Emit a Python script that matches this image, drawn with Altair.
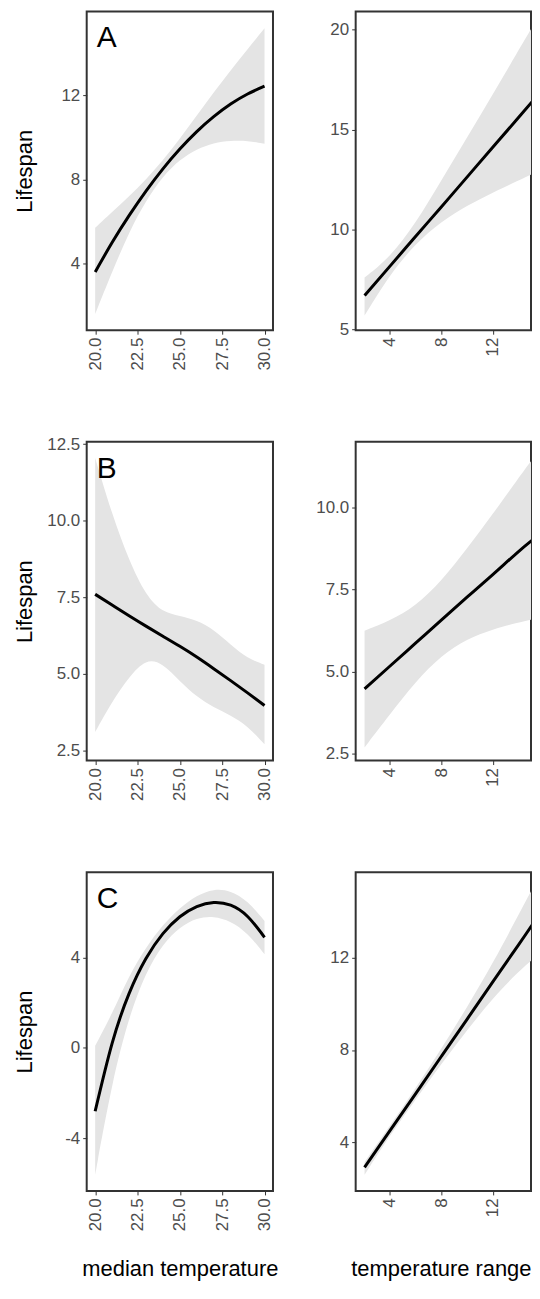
import altair as alt
import pandas as pd

FONT = "Liberation Sans"

# ---------------- data ----------------
med_x = [20, 21, 22, 23, 24, 25, 26, 27, 28, 29, 30]
rng_x = [2.04, 4, 6, 8, 10, 12, 14, 15.14]

# Panel A
a_med_fit = [3.6, 5.0, 6.28, 7.45, 8.51, 9.45, 10.28, 10.99, 11.59, 12.07, 12.44]
a_med_lo = [1.6, 3.6, 5.5, 7.0, 8.15, 8.95, 9.45, 9.75, 9.85, 9.85, 9.7]
a_med_hi = [5.7, 6.45, 7.2, 8.0, 8.9, 9.95, 11.05, 12.15, 13.2, 14.2, 15.2]
a_rng_fit = [6.7, 8.16, 9.65, 11.13, 12.62, 14.11, 15.6, 16.45]
a_rng_lo = [5.7, 7.75, 9.3, 10.4, 11.2, 11.85, 12.45, 12.8]
a_rng_hi = [7.6, 8.6, 10.3, 12.45, 14.6, 16.75, 18.95, 20.2]

# Panel B
b_med_fit = [7.6, 7.25, 6.9, 6.56, 6.23, 5.9, 5.55, 5.17, 4.78, 4.38, 3.97]
b_med_lo = [3.1, 4.1, 4.9, 5.5, 5.35, 4.75, 4.25, 3.9, 3.65, 3.3, 2.7]
b_med_hi = [12.05, 10.2, 8.7, 7.55, 7.0, 6.9, 6.75, 6.45, 5.95, 5.5, 5.3]
b_rng_fit = [4.48, 5.17, 5.87, 6.57, 7.27, 7.96, 8.66, 9.03]
b_rng_lo = [2.7, 3.7, 4.7, 5.5, 6.0, 6.3, 6.5, 6.6]
b_rng_hi = [6.25, 6.55, 7.0, 7.75, 8.75, 9.8, 10.9, 11.5]

# Panel C
c_med_fit = [-2.8, 0.2, 2.4, 3.95, 5.05, 5.8, 6.25, 6.43, 6.31, 5.81, 4.89]
c_med_lo = [-5.6, -1.5, 1.4, 3.35, 4.6, 5.35, 5.75, 5.83, 5.61, 5.09, 4.14]
c_med_hi = [0.1, 1.5, 3.2, 4.45, 5.45, 6.2, 6.75, 7.03, 6.96, 6.51, 5.61]
c_rng_fit = [2.92, 4.5, 6.1, 7.72, 9.33, 10.95, 12.55, 13.48]
c_rng_lo = [2.6, 4.3, 5.85, 7.4, 8.85, 10.25, 11.4, 11.95]
c_rng_hi = [3.15, 4.7, 6.35, 8.05, 9.85, 11.75, 13.85, 15.05]

med_ticks = [20, 22.5, 25, 27.5, 30]
rng_ticks = [4, 8, 12]

LEFT_W, RIGHT_W, H = 187, 176, 320
MED_DOM = [19.5, 30.5]
RNG_DOM = [1.35, 14.97]


def panel(x, fit, lo, hi, xdom, ydom, xticks, xfmt, yticks, yfmt, w,
          ytitle=None, xtitle=None, letter=None, ylabelexpr=None,
          xtitle_anchor=None):
    df = pd.DataFrame({"x": x, "fit": fit, "lo": lo, "hi": hi})
    xaxis_kw = dict(values=xticks, format=xfmt, labelAngle=270,
                    labelAlign="right", labelBaseline="middle",
                    minExtent=40, maxExtent=40, titlePadding=28)
    if xtitle_anchor:
        xaxis_kw["titleAnchor"] = xtitle_anchor
    xaxis = alt.Axis(title=xtitle, **xaxis_kw) if xtitle else alt.Axis(title=None, **xaxis_kw)
    yaxis_kw = dict(values=yticks, format=yfmt, minExtent=45, maxExtent=45,
                    titlePadding=5)
    if ylabelexpr:
        yaxis_kw["labelExpr"] = ylabelexpr
    yaxis = alt.Axis(title=ytitle, **yaxis_kw) if ytitle else alt.Axis(title=None, **yaxis_kw)
    xs = alt.Scale(domain=xdom, nice=False, zero=False)
    ys = alt.Scale(domain=ydom, nice=False, zero=False)
    base = alt.Chart(df)
    band = base.mark_area(color="#e4e4e4", interpolate="basis", clip=True).encode(
        x=alt.X("x:Q", scale=xs, axis=xaxis),
        y=alt.Y("lo:Q", scale=ys, axis=yaxis),
        y2="hi:Q",
    )
    line = base.mark_line(color="black", strokeWidth=3, clip=True,
                          interpolate="natural").encode(
        x=alt.X("x:Q", scale=xs),
        y=alt.Y("fit:Q", scale=ys),
    )
    layers = [band, line]
    if letter:
        txt = alt.Chart(pd.DataFrame({"label": [letter]})).mark_text(
            align="left", baseline="alphabetic", fontSize=30, font=FONT,
            color="black"
        ).encode(x=alt.value(10), y=alt.value(36), text="label:N")
        layers.append(txt)
    return alt.layer(*layers).properties(width=w, height=H)


pA1 = panel(med_x, a_med_fit, a_med_lo, a_med_hi, MED_DOM, [0.83, 16.0],
            med_ticks, ".1f", [4, 8, 12], "d", LEFT_W, ytitle="Lifespan",
            letter="A")
pA2 = panel(rng_x, a_rng_fit, a_rng_lo, a_rng_hi, RNG_DOM, [4.97, 20.9],
            rng_ticks, "d", [5, 10, 15, 20], "d", RIGHT_W)
pB1 = panel(med_x, b_med_fit, b_med_lo, b_med_hi, MED_DOM, [2.17, 12.58],
            med_ticks, ".1f", [2.5, 5, 7.5, 10, 12.5], ".1f", LEFT_W,
            ytitle="Lifespan", letter="B")
pB2 = panel(rng_x, b_rng_fit, b_rng_lo, b_rng_hi, RNG_DOM, [2.3, 12.0],
            rng_ticks, "d", [2.5, 5, 7.5, 10], ".1f", RIGHT_W)
pC1 = panel(med_x, c_med_fit, c_med_lo, c_med_hi, MED_DOM, [-6.32, 7.77],
            med_ticks, ".1f", [-4, 0, 4], "d", LEFT_W, ytitle="Lifespan",
            xtitle="median temperature", letter="C",
            ylabelexpr="'' + datum.value")
pC2 = panel(rng_x, c_rng_fit, c_rng_lo, c_rng_hi, RNG_DOM, [1.9, 15.7],
            rng_ticks, "d", [4, 8, 12], "d", RIGHT_W,
            xtitle="temperature range", xtitle_anchor="end")

chart = alt.concat(
    pA1, pA2, pB1, pB2, pC1, pC2,
    columns=2,
    bounds="flush",
    align="each",
    spacing={"row": 112, "column": 83},
).properties(
    padding={"left": 5, "top": 0, "right": 0, "bottom": 0},
    background="white",
).configure_view(
    stroke="#333333", strokeWidth=2
).configure_axis(
    labelFont=FONT, titleFont=FONT, labelColor="#4d4d4d", titleColor="#000000",
    labelFontSize=17, titleFontSize=22, titleFontWeight="normal",
    tickColor="#333333", tickSize=4, tickWidth=1, domain=False, grid=False,
    labelPadding=3,
)

chart.save("out.html", embed_options={"renderer": "svg", "actions": False})
